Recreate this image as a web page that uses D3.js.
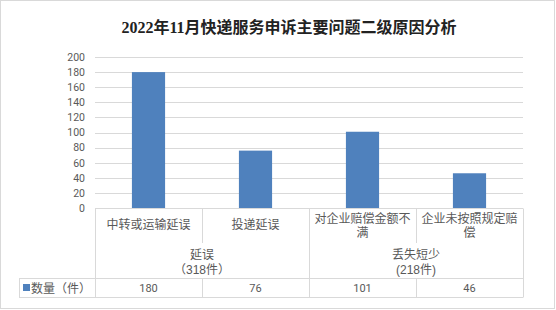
<!DOCTYPE html>
<html><head><meta charset="utf-8">
<script src="https://cdn.jsdelivr.net/npm/d3@7"></script>
<style>body{margin:0;background:#fff;}svg{display:block;}</style>
</head><body>
<svg id="c" width="556" height="310"></svg>
<script>
const title = "2022年11月快递服务申诉主要问题二级原因分析";
const categories = ["中转或运输延误", "投递延误", "对企业赔偿金额不满", "企业未按照规定赔偿"];
const categoryLines = [["中转或运输延误"], ["投递延误"], ["对企业赔偿金额不", "满"], ["企业未按照规定赔", "偿"]];
const values = [180, 76, 101, 46];
const groupNames = ["延误", "丢失短少"];
const groupCounts = ["（318件）", "(218件)"];
const groupSpans = [[0, 1], [2, 3]];
const seriesName = "数量（件）";
const yTicks = [0, 20, 40, 60, 80, 100, 120, 140, 160, 180, 200];

const svg = d3.select("#c");
const grid = "#d9d9d9", txt = "#595959", barColor = "#4f81bd";
const font = "'Liberation Sans','Noto Sans CJK SC',sans-serif";

svg.append("rect").attr("x", 0.5).attr("y", 0.5).attr("width", 554).attr("height", 308)
  .attr("fill", "#fff").attr("stroke", grid);

svg.append("text").attr("x", 289).attr("y", 33).attr("text-anchor", "middle")
  .attr("font-family", "'Liberation Serif','Noto Sans CJK SC',serif").attr("font-weight", "bold")
  .attr("font-size", 16).attr("fill", "#222").text(title);

const x = d3.scaleBand().domain(categories).range([95, 523]).padding(0);
const y = d3.scaleLinear().domain([0, 200]).range([208, 57]);

// gridlines
svg.append("g").selectAll("line").data(yTicks.filter(d => d > 0)).join("line")
  .attr("x1", 95).attr("x2", 523).attr("y1", d => Math.round(y(d)) + 0.5).attr("y2", d => Math.round(y(d)) + 0.5)
  .attr("stroke", grid);

// y axis labels
const yAxis = d3.axisLeft(y).tickValues(yTicks).tickSize(0).tickPadding(0);
const ya = svg.append("g").attr("transform", "translate(85,0)").call(yAxis);
ya.select(".domain").remove();
ya.selectAll("text").attr("font-family", "Roboto, 'Open Sans', sans-serif").attr("font-size", 10.5).attr("fill", txt);

// bars
const bw = x.bandwidth(), barW = bw * 0.31;
svg.append("g").selectAll("rect").data(values).join("rect")
  .attr("x", (d, i) => x(categories[i]) + (bw - barW) / 2)
  .attr("width", barW)
  .attr("y", d => y(d)).attr("height", d => y(0) - y(d))
  .attr("fill", barColor);

// table lines
const tbl = svg.append("g").attr("stroke", grid).attr("fill", "none");
const yTop = 208.5, yMid = 278.5, yBot = 297.5;
tbl.append("line").attr("x1", 95).attr("x2", 523).attr("y1", yTop).attr("y2", yTop);
tbl.append("line").attr("x1", 19).attr("x2", 523).attr("y1", yMid).attr("y2", yMid);
tbl.append("line").attr("x1", 19).attr("x2", 523).attr("y1", yBot).attr("y2", yBot);
tbl.append("line").attr("x1", 19.5).attr("x2", 19.5).attr("y1", yMid).attr("y2", yBot);
categories.forEach((c, i) => {
  const xx = Math.round(x(c)) + 0.5;
  const isGroupStart = groupSpans.some(s => s[0] === i);
  if (isGroupStart) {
    tbl.append("line").attr("x1", xx).attr("x2", xx).attr("y1", yTop).attr("y2", yBot);
  } else {
    tbl.append("line").attr("x1", xx).attr("x2", xx).attr("y1", yTop).attr("y2", 243);
    tbl.append("line").attr("x1", xx).attr("x2", xx).attr("y1", yMid).attr("y2", yBot);
  }
});
tbl.append("line").attr("x1", 523.5).attr("x2", 523.5).attr("y1", yTop).attr("y2", yBot);

// category labels
const cl = svg.append("g").attr("font-family", font).attr("font-size", 12).attr("fill", txt).attr("text-anchor", "middle");
categoryLines.forEach((lines, i) => {
  const cx = x(categories[i]) + bw / 2;
  if (lines.length === 1) {
    cl.append("text").attr("x", cx).attr("y", 229).text(lines[0]);
  } else {
    lines.forEach((l, j) => cl.append("text").attr("x", cx).attr("y", 222.5 + j * 14).text(l));
  }
});

// group labels
groupSpans.forEach((s, g) => {
  const cx = (x(categories[s[0]]) + x(categories[s[1]]) + bw) / 2;
  cl.append("text").attr("x", cx).attr("y", 258.5).text(groupNames[g]);
  cl.append("text").attr("x", cx).attr("y", 274).text(groupCounts[g]);
});

// value row
const vr = svg.append("g").attr("font-family", "Roboto, 'Open Sans', sans-serif").attr("font-size", 11).attr("fill", txt).attr("text-anchor", "middle");
values.forEach((v, i) => {
  vr.append("text").attr("x", x(categories[i]) + bw / 2).attr("y", 292).text(v);
});

// legend
svg.append("rect").attr("x", 23).attr("y", 284).attr("width", 7).attr("height", 7).attr("fill", barColor);
svg.append("text").attr("x", 31).attr("y", 292.5).attr("font-family", font).attr("font-size", 12)
  .attr("fill", txt).text(seriesName);
</script>
</body></html>
